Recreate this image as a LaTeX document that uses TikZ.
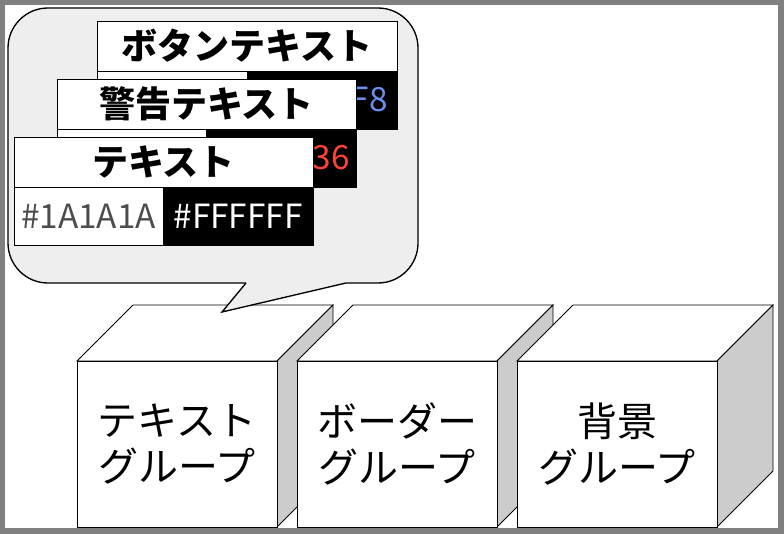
\documentclass[tikz,border=0pt]{standalone}
\usepackage{fontspec}
\setmainfont{Noto Sans CJK JP}
\usepackage{xcolor}
\usepackage{tikz}

\definecolor{framegray}{HTML}{808080}
\definecolor{bubblegray}{HTML}{EEEEEE}
\definecolor{sidegray}{HTML}{CCCCCC}
\definecolor{hexgray}{HTML}{4D4D4D}
\definecolor{warnred}{HTML}{FF4433}
\definecolor{btnblue}{HTML}{6A8FEF}

\tikzset{
  title/.style={font=\fontsize{27}{31}\selectfont\bfseries},
  hex/.style={font=\fontsize{25}{29}\selectfont},
  group/.style={font=\fontsize{30}{35}\selectfont, align=center},
}

\begin{document}
\begin{tikzpicture}[x=0.75pt, y=-0.75pt]
  % frame
  \fill[framegray] (0,0) rectangle (784,534);
  \fill[white] (5,5) rectangle (778,528);

  % cubes
  \foreach \n/\x/\txt in {1/77/{テキスト\\グループ}, 2/297/{ボーダー\\グループ}, 3/517/{背景\\グループ}} {
    \draw[fill=white, line width=0.7pt] (\x,361) -- ++(56,-56) -- ++(200,0) -- ++(-56,56) -- cycle;
    \draw[fill=sidegray, line width=0.7pt] (\x+200,361) -- ++(56,-56) -- ++(0,166) -- ++(-56,56) -- cycle;
    \draw[fill=white, line width=0.7pt] (\x,361) rectangle ++(200,166) node[pos=.5, group] (grp\n) {\txt};
  }

  % speech bubble
  \draw[fill=bubblegray, line width=1pt, rounded corners=30pt] (8,8) rectangle (418,283);
  \fill[bubblegray] (246,281) -- (246,283) -- (222,312) -- (346,283) -- (346,281) -- cycle;
  \draw[line width=1pt] (246,283) -- (222,312) -- (346,283);

  % button text card
  \draw[fill=white] (97,71) rectangle (247,129);
  \draw[fill=black] (247,71) rectangle (397,129);
  \node[hex, text=btnblue, anchor=east, inner sep=0pt] (btnhex) at (388,100) {F8};
  \draw[fill=white] (97,21) rectangle (397,71) node[pos=.5, title] (btn) {ボタンテキスト};

  % warning text card
  \draw[fill=white] (57,129) rectangle (206,187);
  \draw[fill=black] (206,129) rectangle (356,187);
  \node[hex, text=warnred, anchor=east, inner sep=0pt] (warnhex) at (350,158) {36};
  \draw[fill=white] (57,79) rectangle (356,129) node[pos=.5, title] (warn) {警告テキスト};

  % text card
  \draw[fill=white] (14,187) rectangle (163,245) node[pos=.5, hex, text=hexgray] (fg) {\#1A1A1A};
  \draw[fill=black] (163,187) rectangle (313,245) node[pos=.5, hex, text=white] (bg) {\#FFFFFF};
  \draw[fill=white] (14,137) rectangle (313,187) node[pos=.5, title] (txt) {テキスト};
\end{tikzpicture}
\end{document}
